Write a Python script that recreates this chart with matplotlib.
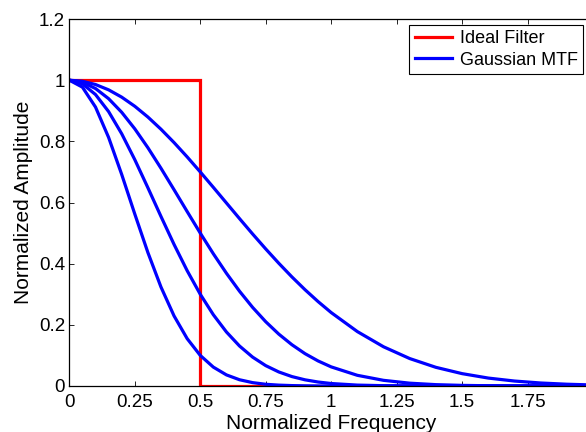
import matplotlib
matplotlib.use('Agg')
import matplotlib.pyplot as plt
from matplotlib.ticker import FormatStrFormatter

# normalized frequency samples
freq = [0, 0.05, 0.1, 0.15, 0.2, 0.25, 0.3, 0.35, 0.4, 0.45, 0.5,
        0.55, 0.6, 0.65, 0.7, 0.75, 0.8, 0.85, 0.9, 0.95, 1.0,
        1.1, 1.2, 1.3, 1.4, 1.5, 1.6, 1.7, 1.8, 1.9, 2.0]

# gaussian MTF curves (widest to narrowest)
mtf_a = [1, 0.9964, 0.9858, 0.9684, 0.9445, 0.9147, 0.8795, 0.8396, 0.7959, 0.7491, 0.7,
         0.6495, 0.5984, 0.5473, 0.4970, 0.4482, 0.4013, 0.3567, 0.3149, 0.2760, 0.2401,
         0.1779, 0.1282, 0.0897, 0.0610, 0.0404, 0.0259, 0.0162, 0.0098, 0.0058, 0.0033]
mtf_b = [1, 0.9931, 0.9727, 0.9395, 0.8950, 0.8409, 0.7792, 0.7120, 0.6417, 0.5704, 0.5,
         0.4323, 0.3686, 0.3099, 0.2570, 0.2102, 0.1696, 0.1350, 0.1058, 0.0819, 0.0625,
         0.0349, 0.0185, 0.0092, 0.0044, 0.0020, 0.0008, 0.0003, 0.0001, 0.0, 0.0]
mtf_c = [1, 0.9880, 0.9530, 0.8973, 0.8248, 0.7401, 0.6483, 0.5544, 0.4628, 0.3771, 0.3,
         0.2330, 0.1766, 0.1307, 0.0944, 0.0666, 0.0459, 0.0308, 0.0202, 0.0130, 0.0081,
         0.0029, 0.0010, 0.0003, 0.0001, 0.0, 0.0, 0.0, 0.0, 0.0, 0.0]
mtf_d = [1, 0.9772, 0.9120, 0.8128, 0.6918, 0.5623, 0.4365, 0.3236, 0.2291, 0.1549, 0.1,
         0.0617, 0.0363, 0.0204, 0.0110, 0.0056, 0.0028, 0.0013, 0.0006, 0.0002, 0.0001,
         0.0, 0.0, 0.0, 0.0, 0.0, 0.0, 0.0, 0.0, 0.0, 0.0]

# ideal filter
ideal_x = [0, 0.5, 0.5, 2]
ideal_y = [1, 1, 0, 0]

xticks = [0, 0.25, 0.5, 0.75, 1, 1.25, 1.5, 1.75, 2]
yticks = [0, 0.2, 0.4, 0.6, 0.8, 1, 1.2]

plt.rcParams['font.family'] = ['Liberation Sans', 'DejaVu Sans']

fig = plt.figure(figsize=(5.86, 4.32), dpi=100)
ax = fig.add_axes([0.1183, 0.1065, 0.8937, 0.8495])

ax.plot(ideal_x, ideal_y, color='#ff0000', lw=2.3, label='Ideal Filter', solid_joinstyle='miter')
for i, curve in enumerate([mtf_a, mtf_b, mtf_c, mtf_d]):
    ax.plot(freq, curve, color='#0000ff', lw=2.3, solid_joinstyle='round',
            label='Gaussian MTF' if i == 0 else None)

ax.set_xlim(0, 2)
ax.set_ylim(0, 1.2)
ax.set_xticks(xticks)
ax.set_yticks(yticks)
ax.xaxis.set_major_formatter(FormatStrFormatter('%g'))
ax.yaxis.set_major_formatter(FormatStrFormatter('%g'))
ax.tick_params(direction='in', length=3.5, width=0.6, top=True, right=True,
               labelsize=13.5)
ax.tick_params(axis='x', pad=6)
ax.tick_params(axis='y', pad=3)
for s in ax.spines.values():
    s.set_linewidth(0.9)

ax.set_xlabel('Normalized Frequency', fontsize=15, labelpad=2)
ax.set_ylabel('Normalized Amplitude', fontsize=15, labelpad=4)

leg = ax.legend(loc='upper right', bbox_to_anchor=(0.981, 0.984), borderaxespad=0,
                fontsize=13, fancybox=False, framealpha=1, edgecolor='black',
                handlelength=2.1, handletextpad=0.4, borderpad=0.3, labelspacing=0.25)
leg.get_frame().set_linewidth(0.8)

fig.savefig('out.png', dpi=100)
